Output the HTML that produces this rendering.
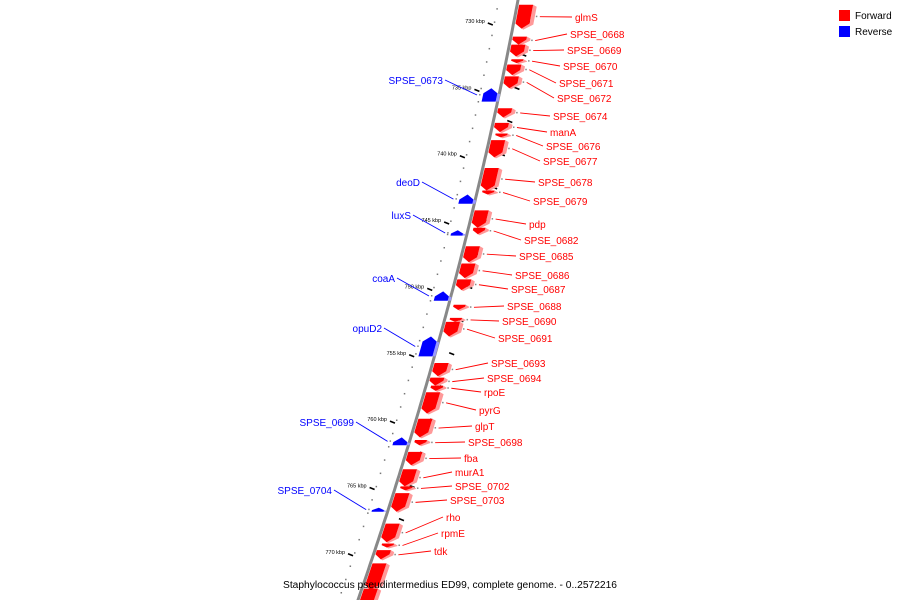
<!DOCTYPE html>
<html><head><meta charset="utf-8"><style>
body{margin:0;background:#fff}
svg{display:block;font-family:"Liberation Sans","DejaVu Sans",sans-serif}
</style></head><body>
<svg id="map" width="900" height="600" viewBox="0 0 900 600">
<g id="ticks"></g>
<path id="backbone" fill="none" stroke="#888" stroke-width="3"/>
<g id="feats"></g>
<g>
<rect x="839" y="10" width="11" height="11" fill="#f00"/>
<text x="855" y="19" font-size="10" fill="#000">Forward</text>
<rect x="839" y="26" width="11" height="11" fill="#00f"/>
<text x="855" y="35" font-size="10" fill="#000">Reverse</text>
</g>
<text x="283" y="588" font-size="10" fill="#000" textLength="334" lengthAdjust="spacingAndGlyphs">Staphylococcus pseudintermedius ED99, complete genome. - 0..2572216</text>
</svg>
<script>
// data
const fwdNames=["glmS","SPSE_0668","SPSE_0669","SPSE_0670","SPSE_0671","SPSE_0672","SPSE_0674","manA","SPSE_0676","SPSE_0677","SPSE_0678","SPSE_0679","pdp","SPSE_0682","SPSE_0685","SPSE_0686","SPSE_0687","SPSE_0688","SPSE_0690","SPSE_0691","SPSE_0693","SPSE_0694","rpoE","pyrG","glpT","SPSE_0698","fba","murA1","SPSE_0702","SPSE_0703","rho","rpmE","tdk","",""];
const fwdStart=[728.7,731.1,731.7,732.8,733.2,734.1,736.5,737.6,738.4,738.9,741.0,742.7,744.2,745.5,746.9,748.2,749.4,751.3,752.3,752.6,755.7,756.8,757.4,757.9,759.9,761.5,762.4,763.7,765.0,765.5,767.8,769.3,769.8,770.8,772.7];
const fwdEnd=[730.5,731.7,732.6,733.1,734.0,735.0,737.2,738.3,738.7,740.2,742.7,743.0,745.5,746.0,748.1,749.3,750.2,751.7,752.6,753.7,756.7,757.4,757.8,759.5,761.3,761.9,763.4,765.0,765.3,766.9,769.2,769.6,770.5,772.8,774.0];
const revNames=["SPSE_0673","deoD","luxS","coaA","opuD2","SPSE_0699","SPSE_0704"];
const revStart=[735.0,743.0,745.7,750.3,753.7,761.3,766.6];
const revEnd=[736.0,743.7,746.1,751.0,755.2,761.9,766.9];
const tickKbp=[730,735,740,745,750,755,760,765,770];
// layout (label anchor positions)
const fwdLabelXY=[[575,21],[570,38],[567,54],[563,70],[559,87],[557,102],[553,120],[550,136],[546,150],[543,165],[538,186],[533,205],[529,228],[524,244],[519,260],[515,279],[511,293],[507,310],[502,325],[498,342],[491,367],[487,382],[484,396],[479,414],[475,430],[468,446],[464,462],[455,476],[455,490],[450,504],[446,521],[441,537],[434,555]];
const revLabelXY=[[443,84],[420,186],[411,219],[395,282],[382,332],[354,426],[332,494]];

const NS="http://www.w3.org/2000/svg";
const yOf=k=>22+(k-730)*13.27;
const lx=y=>518-0.1873*y-1.323e-4*y*y;
function mk(tag,attrs,parent){const e=document.createElementNS(NS,tag);for(const k in attrs)e.setAttribute(k,attrs[k]);parent.appendChild(e);return e;}
const bb=document.getElementById('backbone');
let d="";for(let y=-5;y<=605;y+=5)d+=(y<0?"M":"L")+lx(y).toFixed(1)+" "+y+" ";
bb.setAttribute('d',d);
const T=document.getElementById('ticks');
for(let k=728;k<=774;k++){
  const y=yOf(k);
  const dot=mk('rect',{x:lx(y)-20,y:y-0.6,width:1.5,height:1.5,fill:'#777'},T);
  
  
}
for(let k=727.5;k<=774;k+=2.5){
  const y=yOf(k);
  const t=mk('line',{x1:lx(y)+14,y1:y-1,x2:lx(y)+19,y2:y+1,stroke:'#000','stroke-width':1.6},T);
  
  
}
tickKbp.forEach(k=>{
  const y=yOf(k);const x=lx(y);
  const t=mk('line',{x1:x-26,y1:y+1,x2:x-21,y2:y+3,stroke:'#000','stroke-width':1.6},T);
  
  
  const l=mk('text',{x:x-29,y:y+1,'font-size':5.5,'text-anchor':'end',fill:'#000'},T);
  l.textContent=k+" kbp";
  
  
});
const F=document.getElementById('feats');
function block(s,e,fwd,name,lab){
  const y1=yOf(s),y2=yOf(e),h=y2-y1;const small=h<7;
  const g=mk('g',{},F);
  
  
  const off=fwd?(small?5:2):-16,w=small?12:14,tip=Math.min(5,h*0.6);
  const X=(y,dx)=>(lx(y)+off+dx).toFixed(1);
  const main=fwd?'#f00':'#00f',side=fwd?'#f99':'#99f';
  let pts,sp;
  if(fwd){
    pts=[[0,y1],[w,y1],[w,y2-tip],[w/2,y2],[0,y2-tip]];
    sp=[[w,y1],[w+4,y1+2],[w+4,y2-tip+1],[w/2+2,y2+1],[w/2,y2],[w,y2-tip]];
  }else{
    pts=[[0,y1+tip],[w/2,y1],[w,y1+tip],[w,y2],[0,y2]];
    sp=[[w,y1+tip],[w+3,y1+tip+1],[w+3,y2],[w,y2]];
  }
  mk('polygon',{points:sp.map(p=>X(p[1],p[0])+","+p[1].toFixed(1)).join(" "),fill:side},g);
  mk('polygon',{points:pts.map(p=>X(p[1],p[0])+","+p[1].toFixed(1)).join(" "),fill:main},g);
  if(name&&lab){
    const cy=(y1+y2)/2;
    const sx=fwd?lx(cy)+off+w+6:lx(cy)-19;
    mk('rect',{x:sx-1,y:cy-1,width:1.5,height:1.5,fill:'#888'},g);
    const ex=fwd?lab[0]-3:lab[0]+2;
    mk('line',{x1:fwd?sx+3:sx-3,y1:cy,x2:ex,y2:lab[1]-4,stroke:main,'stroke-width':0.9},g);
    const t=mk('text',{x:lab[0],y:lab[1],'font-size':10,'text-anchor':fwd?'start':'end',fill:main},g);
    t.textContent=name;
    
    
  }
}
fwdNames.forEach((n,i)=>block(fwdStart[i],fwdEnd[i],true,n,fwdLabelXY[i]));
revNames.forEach((n,i)=>block(revStart[i],revEnd[i],false,n,revLabelXY[i]));
</script>
</body></html>
